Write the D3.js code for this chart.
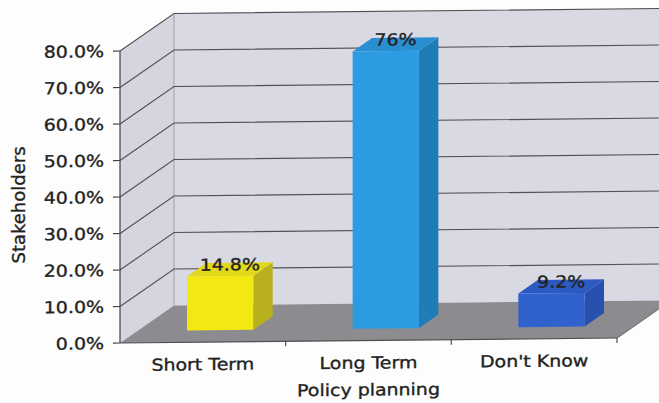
<!DOCTYPE html>
<html>
<head>
<meta charset="utf-8">
<script src="https://cdn.jsdelivr.net/npm/d3@7"></script>
<style>
  html, body { margin: 0; padding: 0; background: #fdfdfd; }
  svg { display: block; }
  text { font-family: "DejaVu Sans", Verdana, sans-serif; fill: #222; stroke: #222; stroke-width: 0.35px; }
</style>
</head>
<body>
<svg id="chart" width="659" height="403"></svg>
<script>
// Survey result: how stakeholders see policy planning
const categories = ["Short Term", "Long Term", "Don't Know"];
const values = [14.8, 76, 9.2];
const valueLabels = ["14.8%", "76%", "9.2%"];
const yTicks = [0, 10, 20, 30, 40, 50, 60, 70, 80];
const xTitle = "Policy planning";
const yTitle = "Stakeholders";

const barColors = [
  { front: "#f4e812", side: "#b9b01e", top: "#e2d81a" },
  { front: "#2b9be2", side: "#1e7cb6", top: "#2a8ed2" },
  { front: "#2f62cc", side: "#2850ae", top: "#2d5ac0" }
];

const W = 659, H = 403;
const X0 = 120, X1 = 617;           // front edge of the floor
const DX = 54, DY = -37;            // depth offset of the 3D box
const D0 = 0.32, D1 = 0.68;         // depth slice occupied by bars
const HX = 1.15;                    // horizontal text stretch

const svg = d3.select("#chart");

const x = d3.scaleBand().domain(categories).range([X0, X1]).paddingInner(0).paddingOuter(0);
const y = d3.scaleLinear().domain([0, 80]).range([343, 51]);

// slight tilt of the whole chart
const g = svg.append("g")
  .attr("transform", `matrix(1,-0.0101,0,1,0,${0.0101 * 120})`);

const pts = a => a.map(p => p.join(",")).join(" ");
const yMax = 80;

// back wall
g.append("polygon")
  .attr("points", pts([
    [X0 + DX, y(yMax) + DY], [X1 + DX + 40, y(yMax) + DY],
    [X1 + DX + 40, y(0) + DY], [X0 + DX, y(0) + DY]
  ]))
  .attr("fill", "#d9d9e3");

// side wall
g.append("polygon")
  .attr("points", pts([
    [X0, y(0)], [X0, y(yMax)], [X0 + DX, y(yMax) + DY], [X0 + DX, y(0) + DY]
  ]))
  .attr("fill", "#d6d4df");

// floor
g.append("polygon")
  .attr("points", pts([
    [X0, y(0)], [X1, y(0)], [X1 + DX, y(0) + DY], [X0 + DX, y(0) + DY]
  ]))
  .attr("fill", "#8c8c90");

// corner of the walls
g.append("line")
  .attr("x1", X0 + DX).attr("x2", X0 + DX)
  .attr("y1", y(yMax) + DY).attr("y2", y(0) + DY)
  .attr("stroke", "#a0a0aa").attr("stroke-width", 1);

// gridlines along side wall and back wall
const grid = g.append("g");
yTicks.filter(v => v > 0).forEach(v => {
  grid.append("polyline")
    .attr("points", pts([[X0, y(v)], [X0 + DX, y(v) + DY], [X1 + DX + 40, y(v) + DY]]))
    .attr("fill", "none")
    .attr("stroke", "#505050")
    .attr("stroke-width", 1.1);
});

// y axis
const yAxis = g.append("g");
yAxis.append("line")
  .attr("x1", X0).attr("x2", X0).attr("y1", y(0)).attr("y2", y(yMax))
  .attr("stroke", "#404040").attr("stroke-width", 1.2);
yTicks.forEach(v => {
  yAxis.append("line")
    .attr("x1", X0 - 7).attr("x2", X0).attr("y1", y(v)).attr("y2", y(v))
    .attr("stroke", "#404040").attr("stroke-width", 1.2);
  yAxis.append("text")
    .attr("transform", `translate(${X0 - 16},${y(v) + 6}) scale(${HX},1)`)
    .attr("text-anchor", "end")
    .attr("font-size", 16.5)
    .text(d3.format(".1f")(v) + "%");
});

// x axis
const xAxis = g.append("g");
xAxis.append("line")
  .attr("x1", X0).attr("x2", X1).attr("y1", y(0)).attr("y2", y(0))
  .attr("stroke", "#505050").attr("stroke-width", 1.2);
xAxis.append("line")
  .attr("x1", X1).attr("x2", X1 + DX).attr("y1", y(0)).attr("y2", y(0) + DY)
  .attr("stroke", "#707070").attr("stroke-width", 1);
categories.forEach((c, i) => {
  const xe = x(c) + x.bandwidth();
  xAxis.append("line")
    .attr("x1", xe).attr("x2", xe).attr("y1", y(0)).attr("y2", y(0) + 5)
    .attr("stroke", "#505050").attr("stroke-width", 1.2);
  xAxis.append("text")
    .attr("transform", `translate(${x(c) + x.bandwidth() / 2},${y(0) + 28}) scale(${HX},1)`)
    .attr("text-anchor", "middle")
    .attr("font-size", 16.5)
    .text(c);
});

// 3D bars
const bw = x.bandwidth() * 0.4;
const bars = g.append("g");
categories.forEach((c, i) => {
  const cx = x(c) + x.bandwidth() / 2;
  const fx0 = cx - bw / 2 + D0 * DX, fx1 = cx + bw / 2 + D0 * DX;
  const fyB = y(0) + D0 * DY, fyT = y(values[i]) + D0 * DY;
  const ddx = (D1 - D0) * DX, ddy = (D1 - D0) * DY;
  const col = barColors[i];
  // side face
  bars.append("polygon")
    .attr("points", pts([[fx1, fyB], [fx1, fyT], [fx1 + ddx, fyT + ddy], [fx1 + ddx, fyB + ddy]]))
    .attr("fill", col.side);
  // top face
  bars.append("polygon")
    .attr("points", pts([[fx0, fyT], [fx1, fyT], [fx1 + ddx, fyT + ddy], [fx0 + ddx, fyT + ddy]]))
    .attr("fill", col.top);
  // front face
  bars.append("rect")
    .attr("x", fx0).attr("y", fyT).attr("width", fx1 - fx0).attr("height", fyB - fyT)
    .attr("fill", col.front);
  // value label
  bars.append("text")
    .attr("transform", `translate(${(fx0 + fx1) / 2 + ddx / 2},${fyT + ddy / 2 + 1}) scale(${HX},1)`)
    .attr("text-anchor", "middle")
    .attr("font-size", 16.5)
    .text(valueLabels[i]);
});

// axis titles
g.append("text")
  .attr("transform", `translate(${(X0 + X1) / 2},${y(0) + 55}) scale(${HX},1)`)
  .attr("text-anchor", "middle")
  .attr("font-size", 16.5)
  .text(xTitle);

svg.append("text")
  .attr("transform", `translate(25,205) rotate(-90)`)
  .attr("text-anchor", "middle")
  .attr("font-size", 18)
  .text(yTitle);
</script>
</body>
</html>
